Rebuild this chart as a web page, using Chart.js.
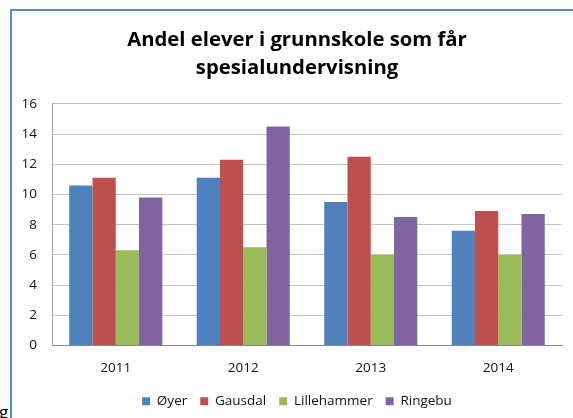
<!DOCTYPE html>
<html>
<head>
<meta charset="utf-8">
<script src="https://cdn.jsdelivr.net/npm/chart.js@4/dist/chart.umd.min.js"></script>
<style>
  html, body { margin:0; padding:0; width:573px; height:418px; overflow:hidden; background:#fff; }
  #frame { position:absolute; left:10px; top:9px; width:600px; height:450px;
           border-left:2px solid #5b87c5; border-top:2px solid #5b87c5; box-sizing:border-box; }
  #wrap { position:absolute; left:12px; top:0px; width:570px; height:418px; }
  #frag { position:absolute; left:-1px; top:404px; font:17px 'Open Sans', sans-serif; line-height:16px; color:#000; }
</style>
</head>
<body>
<div id="frame"></div>
<div id="wrap"><canvas id="c" width="570" height="418"></canvas></div>
<span id="frag">g</span>
<script>
const titleLines = ["Andel elever i grunnskole som får", "spesialundervisning"];
const categories = ["2011", "2012", "2013", "2014"];
const seriesNames = ["Øyer", "Gausdal", "Lillehammer", "Ringebu"];
const oyer        = [10.6, 11.1, 9.5, 7.6];
const gausdal     = [11.1, 12.3, 12.5, 8.9];
const lillehammer = [6.3, 6.5, 6.0, 6.0];
const ringebu     = [9.8, 14.5, 8.5, 8.7];
const yTicks = [0, 2, 4, 6, 8, 10, 12, 14, 16];
const colors = ["#4f81bd", "#c0504d", "#9bbb59", "#8064a2"];

const values = [oyer, gausdal, lillehammer, ringebu];
const FONT = "'Open Sans', Lato, sans-serif";

new Chart(document.getElementById('c'), {
  type: 'bar',
  data: {
    labels: categories,
    datasets: seriesNames.map((n, i) => ({
      label: n,
      data: values[i],
      backgroundColor: colors[i],
      borderWidth: 0,
      categoryPercentage: 0.73,
      barPercentage: 1.0,
      yAxisID: 'y'
    }))
  },
  options: {
    responsive: false,
    animation: false,
    layout: { padding: { left: 0, right: 0, top: 0, bottom: 0 } },
    plugins: {
      title: {
        display: true,
        text: titleLines,
        color: '#000',
        font: { family: FONT, size: 20.3, weight: 'bold', lineHeight: 1.4 },
        padding: { top: 26, bottom: 21 }
      },
      legend: {
        position: 'bottom',
        labels: {
          boxWidth: 8, boxHeight: 8, padding: 13,
          color: '#111',
          font: { family: FONT, size: 13.5 }
        }
      },
      tooltip: { enabled: false }
    },
    scales: {
      x: {
        afterFit: s => { s.height = 36; },
        grid: { display: false, drawTicks: false },
        border: { display: true, color: '#868686', width: 1 },
        ticks: { color: '#111', padding: 15, font: { family: FONT, size: 13.5 } }
      },
      y: {
        position: 'left',
        min: 0, max: 16,
        afterFit: s => { s.width = 40; },
        afterBuildTicks: s => { s.ticks = yTicks.map(v => ({ value: v })); },
        grid: { color: '#c4c4c4', drawTicks: false },
        border: { display: true, color: '#a6a6a6', width: 1 },
        ticks: { color: '#111', padding: 15, font: { family: FONT, size: 13.5 } }
      },
      yRightSpace: {
        position: 'right',
        afterFit: s => { s.width = 20; },
        grid: { display: false, drawTicks: false },
        border: { display: false },
        ticks: { display: false }
      }
    }
  }
});
</script>
</body>
</html>
